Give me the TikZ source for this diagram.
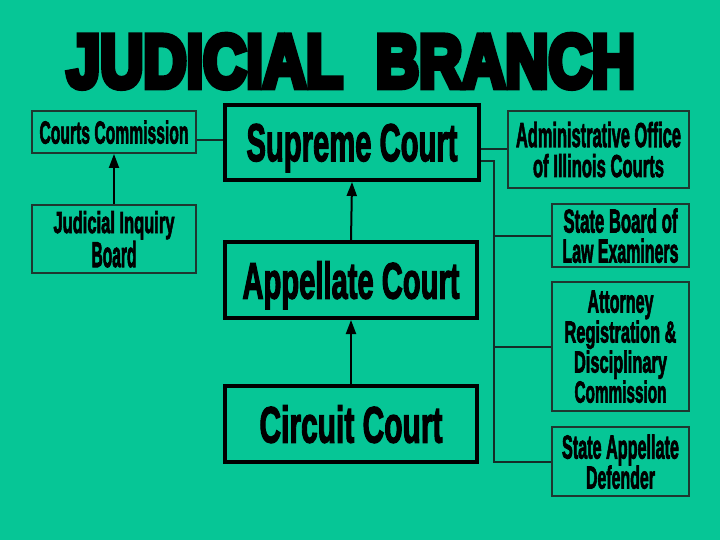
\documentclass[tikz,border=0pt]{standalone}
\usepackage{fontspec}
\usepackage{graphicx}
\setmainfont{Liberation Sans}
\newfontfamily\boxfont{Liberation Sans Bold}[FakeBold=3]
\newfontfamily\titlefont{Liberation Sans Bold}[FakeBold=9]
\usetikzlibrary{arrows.meta}
\definecolor{bg}{RGB}{6,198,150}
\definecolor{thin}{RGB}{30,55,48}
\definecolor{wire}{RGB}{20,45,40}
\newcommand{\fitln}[3]{\raisebox{0pt}[\height][0pt]{\resizebox{#1pt}{#2pt}{#3}}}
\newcommand{\boxtext}{\boxfont\fontsize{10}{30}\selectfont\lineskiplimit=-100pt\relax}
\tikzset{
  sbox/.style={draw=thin, line width=2pt, inner sep=0pt, align=center,
    font=\boxtext},
  bbox/.style={draw=black, line width=4pt, inner sep=0pt, align=center,
    font=\boxtext},
  wireline/.style={draw=wire, line width=2pt},
  uparrow/.style={draw=black, line width=2pt, -{Triangle[length=14pt,width=10pt]}}
}
\begin{document}
\begin{tikzpicture}[x=1pt,y=-1pt]
\fill[bg] (0,0) rectangle (720,540);
\useasboundingbox (0,0) rectangle (720,540);

\node[inner sep=0pt] (title) at (351,61) {\titlefont\fitln{568}{52}{JUDICIAL\ \ BRANCH}};

% left column
\node[sbox, minimum width=164pt, minimum height=42pt] (cc) at (114,132)
  {\fitln{149}{23}{Courts Commission}};
\node[sbox, minimum width=164pt, minimum height=68pt] (jib) at (114,239)
  {\fitln{121}{22}{Judicial Inquiry}\\[4pt]\fitln{45}{26}{Board}};

% centre column
\node[bbox, minimum width=254pt, minimum height=75pt] (sc) at (352,142.5)
  {\fitln{211}{37}{Supreme Court}};
\node[bbox, minimum width=252pt, minimum height=76pt] (ac) at (351,280)
  {\fitln{217}{37}{Appellate Court}};
\node[bbox, minimum width=252pt, minimum height=76pt] (cic) at (351,424)
  {\fitln{183}{37}{Circuit Court}};

% right column
\node[sbox, minimum width=181pt, minimum height=77pt] (ao) at (598.5,149.5)
  {\fitln{165}{25}{Administrative Office}\\\fitln{131}{23}{of Illinois Courts}};
\node[sbox, minimum width=137pt, minimum height=63pt] (sb) at (620.5,235.5)
  {\fitln{114}{24}{State Board of}\\\fitln{116}{24}{Law Examiners}};
\node[sbox, minimum width=137pt, minimum height=129pt] (ar) at (620.5,346.5)
  {\fitln{66}{22}{Attorney}\\\fitln{112}{22}{Registration \&}\\\fitln{93}{22}{Disciplinary}\\\fitln{92}{22}{Commission}};
\node[sbox, minimum width=137pt, minimum height=69pt] (sad) at (620.5,461.5)
  {\fitln{117}{24}{State Appellate}\\\fitln{69}{23}{Defender}};

% connectors
\coordinate (bus) at (494,0);
\draw[wireline] (cc.east |- 0,140) -- (sc.west |- 0,140);
\draw[wireline] (sc.east |- ao.west) -- (ao.west);
\draw[wireline] (sc.east |- 0,161) -- (bus |- 0,161) -- (bus |- sad.west) -- (sad.west);
\draw[wireline] (bus |- sb.west) -- (sb.west);
\draw[wireline] (bus |- ar.west) -- (ar.west);

\draw[uparrow] (jib.north) -- (cc.south);
\draw[uparrow] (ac.north) -- (sc.south);
\draw[uparrow] (cic.north) -- (ac.south);
\end{tikzpicture}
\end{document}
